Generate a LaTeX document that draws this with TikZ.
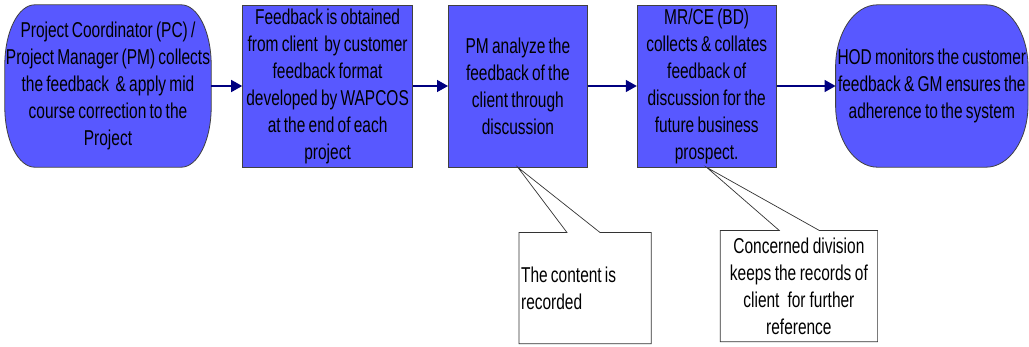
\documentclass[tikz,border=0pt]{standalone}
\usepackage{fontspec}
\setmainfont{Liberation Sans}[FakeStretch=0.72, WordSpace=0.75]
\usetikzlibrary{positioning, calc, arrows.meta, backgrounds}
\definecolor{boxblue}{RGB}{88,88,255}
\definecolor{flownavy}{RGB}{0,0,128}
\newcommand\fontspace{\spaceskip=0pt\xspaceskip=0pt}
\tikzset{
every node/.style = {font = \fontsize{21.5}{27}\selectfont},
process/.style = {rectangle, draw = black!75, fill = boxblue, line width = 0.8pt,
   minimum height = 162pt, inner sep = 2pt, align = center},
terminal/.style = {rectangle, minimum height = 162pt, inner sep = 0pt, align = center},
terminal line/.style = {draw = black!75, fill = boxblue, line width = 0.8pt},
flow/.style = {-{Triangle[length = 11pt, width = 12pt]}, draw = flownavy,
   line width = 1.4pt},
note/.style = {rectangle, inner sep = 2pt, minimum height = 111pt},
note line/.style = {draw = black!80, line width = 0.7pt}
}

\begin{document}
\begin{tikzpicture}[x = 1pt, y = -1pt]

\useasboundingbox (0, 0) rectangle (1029, 346);

%% Steps
\node [terminal, minimum width = 206pt] (pc) at (108, 86)
   {Project Coordinator (PC) /\\Project Manager (PM) collects\\the feedback \ \& apply mid\\course correction to the\\Project};
\node [process, minimum width = 170pt, right = 31pt of pc] (obtain)
   {Feedback is obtained\\from client \ by customer\\feedback format\\developed by WAPCOS\\at the end of each\\project};
\node [process, minimum width = 139pt, right = 35pt of obtain] (analyze)
   {PM analyze the\\feedback of the\\client through\\discussion};
\node [process, minimum width = 139pt, right = 49pt of analyze] (collate)
   {MR/CE (BD)\\collects \& collates\\feedback of\\discussion for the\\future business\\prospect.};
\node [terminal, minimum width = 192pt, right = 59pt of collate] (hod)
   {HOD monitors the customer\\feedback \& GM ensures the\\adherence to the system};

%% Terminal outlines
\begin{scope}[on background layer]
\foreach \n/\rx/\ry in {pc/30/60, hod/42/62} {
   \draw [terminal line] ([xshift = \rx pt]\n.north west) -- ([xshift = -\rx pt]\n.north east)
      arc [start angle = 90, end angle = 0, x radius = \rx pt, y radius = \ry pt]
      -- ([yshift = \ry pt]\n.south east)
      arc [start angle = 0, end angle = -90, x radius = \rx pt, y radius = \ry pt]
      -- ([xshift = \rx pt]\n.south west)
      arc [start angle = 270, end angle = 180, x radius = \rx pt, y radius = \ry pt]
      -- ([yshift = -\ry pt]\n.north west)
      arc [start angle = 180, end angle = 90, x radius = \rx pt, y radius = \ry pt]
      -- cycle;
}
\end{scope}

%% Flow
\draw [flow] (pc) -- (obtain);
\draw [flow] (obtain) -- (analyze);
\draw [flow] (analyze) -- (collate);
\draw [flow] (collate) -- (hod);

%% Callouts
\node [note, text width = 128pt, align = left, below right = 65pt and 1pt of analyze.south] (rec)
   {\fontspace The content is\\recorded};
\node [note, text width = 153pt, align = center, below right = 63pt and 13.5pt of collate.south] (keep)
   {\fontspace Concerned division\\keeps the records of\\client \ for further\\reference};

\foreach \n/\src/\a/\b in {rec/analyze/48/81, keep/collate/59/99} {
   \draw [note line] (\n.north west) -- ($(\n.north west) + (\a, 0)$) -- (\src.south)
      -- ($(\n.north west) + (\b, 0)$) -- (\n.north east) -- (\n.south east)
      -- (\n.south west) -- cycle;
}

\end{tikzpicture}
\end{document}
